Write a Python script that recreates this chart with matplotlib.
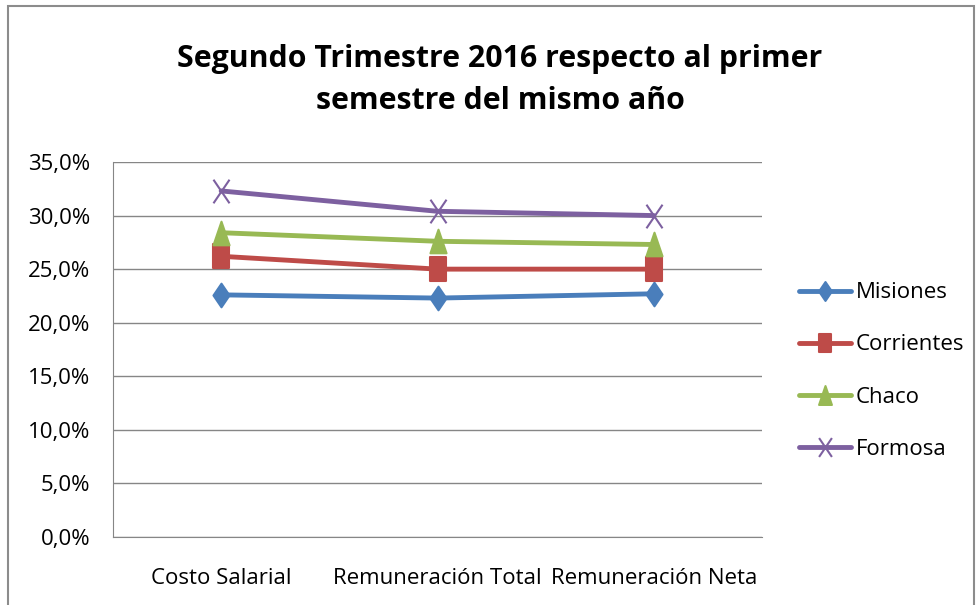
import matplotlib.pyplot as plt
from matplotlib.patches import Rectangle
from matplotlib.path import Path
from matplotlib.ticker import FuncFormatter

categorias = ['Costo Salarial', 'Remuneración Total', 'Remuneración Neta']
misiones = [22.6, 22.3, 22.7]
corrientes = [26.2, 25.0, 25.0]
chaco = [28.4, 27.6, 27.3]
formosa = [32.3, 30.4, 30.0]
titulo = 'Segundo Trimestre 2016 respecto al primer\nsemestre del mismo año'

plt.rcParams['font.family'] = ['Open Sans', 'DejaVu Sans']

# marcadores estirados en vertical como en el original
w = 0.34
m_diamante = Path([(0, -0.5), (w, 0), (0, 0.5), (-w, 0), (0, -0.5)], closed=True)
m_cuadrado = Path([(-w, -0.5), (w, -0.5), (w, 0.5), (-w, 0.5), (-w, -0.5)], closed=True)
m_triangulo = Path([(-w, -0.5), (w, -0.5), (0, 0.5), (-w, -0.5)], closed=True)
m_cruz = Path([(-w, -0.5), (w, 0.5), (-w, 0.5), (w, -0.5)],
              [Path.MOVETO, Path.LINETO, Path.MOVETO, Path.LINETO])

fig = plt.figure(figsize=(9.77, 6.05), dpi=100)
# marco exterior del grafico
fig.patches.append(Rectangle((8 / 977, -0.01), 966 / 977, 1 - 6 / 605 + 0.01,
                             transform=fig.transFigure, fill=False,
                             edgecolor='#8c8c8c', linewidth=1.5))

ax = fig.add_axes([113 / 977, 68 / 605, 649 / 977, 375 / 605])
x = range(len(categorias))
series = [
    ('Misiones', misiones, '#4A7EBB', m_diamante),
    ('Corrientes', corrientes, '#BE4B48', m_cuadrado),
    ('Chaco', chaco, '#98B954', m_triangulo),
    ('Formosa', formosa, '#7D60A0', m_cruz),
]
for nombre, vals, col, mk in series:
    ax.plot(x, vals, color=col, linewidth=3.5, marker=mk, markersize=17,
            markeredgewidth=1.5, markeredgecolor=col, markerfacecolor=col,
            label=nombre, solid_capstyle='round')

ax.set_xlim(-0.5, 2.5)
ax.set_ylim(0, 35)
ax.set_yticks(range(0, 36, 5))
ax.yaxis.set_major_formatter(FuncFormatter(lambda v, p: f'{v:.1f}%'.replace('.', ',')))
ax.set_xticks(list(x))
ax.set_xticklabels(categorias)
ax.tick_params(length=0, labelsize=16, colors='black', pad=16.5)
ax.tick_params(axis='x', pad=22)
ax.grid(axis='y', color='#868686', linewidth=1)
ax.set_axisbelow(True)
for s in ['top', 'right']:
    ax.spines[s].set_visible(False)
ax.spines['left'].set_color('#868686')
ax.spines['bottom'].set_color('#868686')

fig.text(500 / 977, 1 - 80 / 605, titulo, ha='center', va='center',
         fontsize=21.8, fontweight='bold', linespacing=1.55)

fig.legend(loc='center left', bbox_to_anchor=(790 / 977, 1 - 371 / 605),
           frameon=False, fontsize=16, labelspacing=1.4, handlelength=2.35,
           handletextpad=0.2, borderaxespad=0, markerscale=0.8)

fig.savefig('out.png', dpi=100)
